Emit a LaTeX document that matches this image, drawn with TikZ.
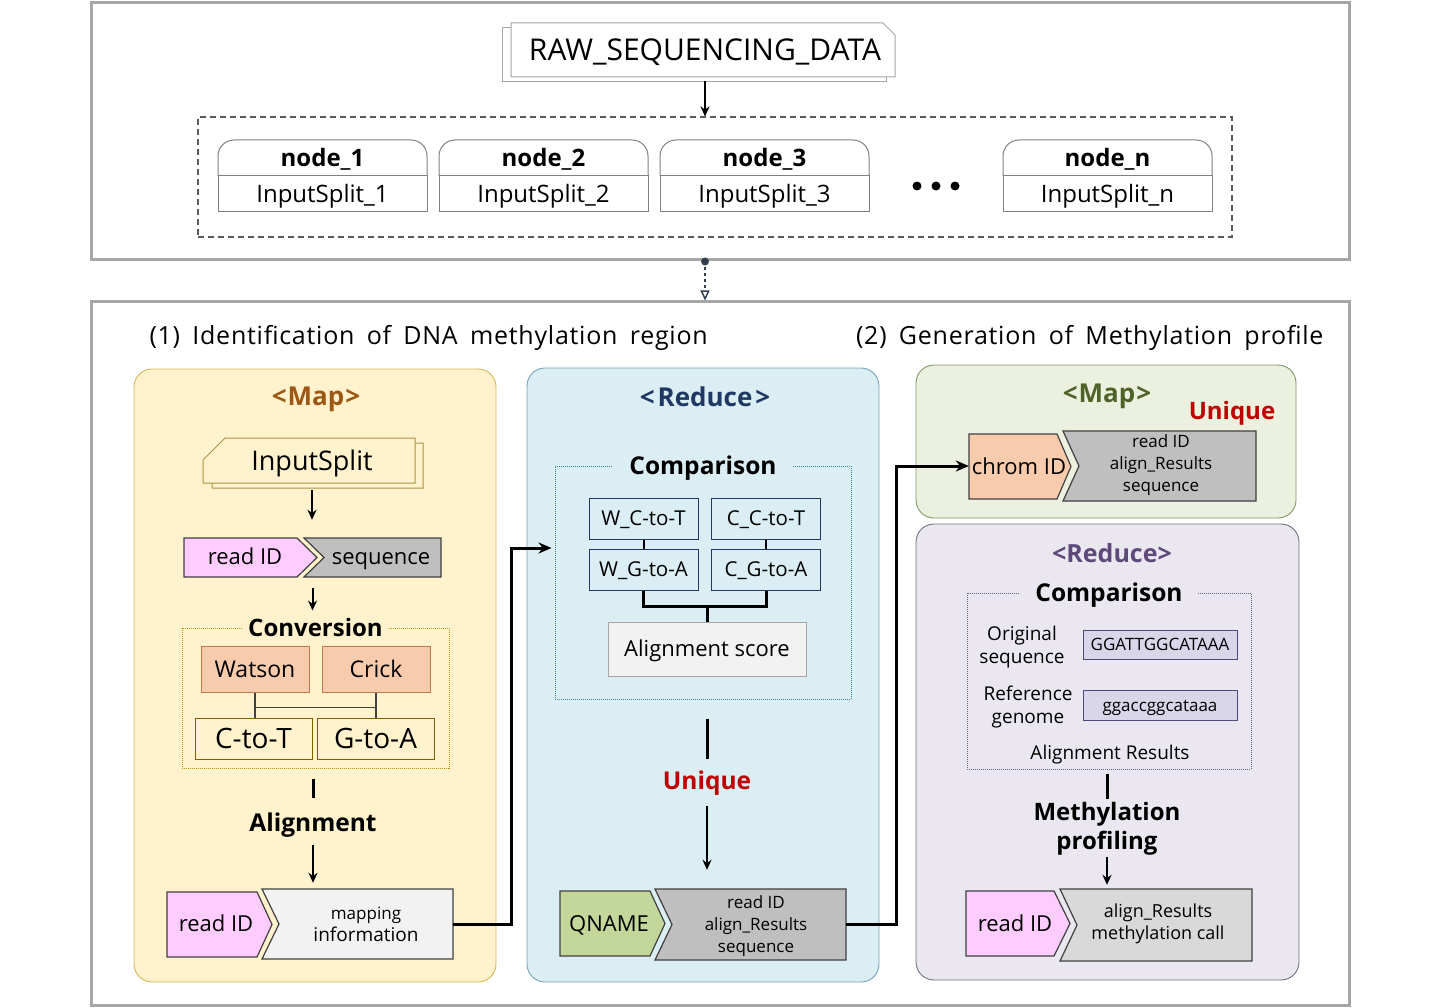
\documentclass[tikz,border=0pt]{standalone}
\usepackage{fontspec}
\setmainfont{Open Sans}
\newfontfamily\titlefamily{Open Sans}[LetterSpace=3, WordSpace=1.7]
\usepackage{xcolor}
\usepackage{tikz}
\usetikzlibrary{positioning, arrows.meta, calc}
\definecolor{framegray}{RGB}{166,166,166}
\definecolor{nodegray}{RGB}{128,128,128}
\definecolor{linknavy}{RGB}{51,63,80}
\definecolor{mapfill}{RGB}{255,242,204}
\definecolor{mapline}{RGB}{214,182,86}
\definecolor{redfill}{RGB}{218,238,243}
\definecolor{redline}{RGB}{120,160,180}
\definecolor{mapbfill}{RGB}{235,241,222}
\definecolor{mapbline}{RGB}{130,150,100}
\definecolor{redbfill}{RGB}{234,231,240}
\definecolor{redbline}{RGB}{110,110,130}
\definecolor{idpink}{RGB}{255,204,255}
\definecolor{taggray}{RGB}{191,191,191}
\definecolor{tagpale}{RGB}{242,242,242}
\definecolor{taglight}{RGB}{217,217,217}
\definecolor{qgreen}{RGB}{196,215,155}
\definecolor{peach}{RGB}{248,203,173}
\definecolor{peachline}{RGB}{197,120,80}
\definecolor{convline}{RGB}{191,144,0}
\definecolor{strandline}{RGB}{127,96,0}
\definecolor{cmpline}{RGB}{49,133,155}
\definecolor{navy}{RGB}{31,56,100}
\definecolor{mapbrown}{RGB}{156,87,20}
\definecolor{mapolive}{RGB}{79,98,40}
\definecolor{redpurple}{RGB}{95,73,122}
\definecolor{uniqred}{RGB}{192,0,0}
\definecolor{seqfill}{RGB}{217,214,234}
\definecolor{seqline}{RGB}{75,75,128}
\definecolor{cmpbline}{RGB}{100,100,130}

\tikzset{
    fs/.style 2 args={font=\fontsize{#1}{#2}\selectfont},
    bfs/.style 2 args={font=\fontsize{#1}{#2}\selectfont\bfseries},
    titlefont/.style={font=\titlefamily\fontsize{25}{30}\selectfont},
    frame/.style={draw=framegray, line width=3pt, minimum width=1258pt},
    panel/.style 2 args={fill=#1, draw=#2, line width=0.9pt, rounded corners=18pt},
    dotbox/.style={draw=#1, densely dotted, line width=1pt},
    cell/.style={draw=#1, line width=1pt},
    hold/.style={inner sep=0pt},
    tagline/.style={draw=black!75, line width=1.2pt},
    mid/.style={text height=0.96*#1pt, text depth=0.25*#1pt},
    flow/.style={line width=2pt, -{Stealth[length=10pt,width=9pt]}},
    bar/.style={line width=3pt},
    link/.style={line width=3pt, -{Stealth[length=13pt,width=11pt]}},
}

\begin{document}
\begin{tikzpicture}[x=1pt, y=-1pt]
    \useasboundingbox (0,0) rectangle (1440,1008);
    % input splitting
    \node[frame, minimum height=257pt] (topframe) at (720,131.5) {};
    \filldraw[fill=white, draw=framegray, line width=1pt] (502,28) rectangle (886,82);
    \filldraw[fill=white, draw=framegray, line width=1pt] (511,23) -- (883,23) -- (895,35) -- (895,77) -- (511,77) -- cycle;
    \node[fs={30}{36}, mid=30, minimum height=54pt] (raw) at (705,50) {RAW\_SEQUENCING\_DATA};
    \node[draw=black!65, dash pattern=on 6pt off 4pt, line width=1.2pt, minimum width=1034pt, minimum height=120pt] (cluster) at (715,177) {};
    \draw[flow, shorten <=4pt] (raw.south) -- (raw.south |- cluster.north);
    \foreach \x/\n in {218/1, 439/2, 660/3, 1003/n}{
        \draw[nodegray, line width=1pt, rounded corners=16pt] (\x,176) -- (\x,140) -- (\x+209,140) -- (\x+209,176);
        \draw[nodegray, line width=1pt] (\x,176) rectangle (\x+209,212);
        \node[bfs={24}{29}, mid=24] (head\n) at (\x+104.5,158) {node\_\n};
        \node[fs={24}{29}, mid=24] (split\n) at (\x+104.5,194) {InputSplit\_\n};
    }
    \foreach \x in {917,936,955}
        \fill (\x,186) circle (4.5);
    \node[frame, minimum height=703pt] (botframe) at (720,653.5) {};
    \fill[linknavy] (raw.south |- topframe.south) circle (4);
    \draw[linknavy, dashed, line width=1.5pt, -{Triangle[open, length=10pt, width=9pt]}] (raw.south |- topframe.south) -- (raw.south |- botframe.north);

    \node[titlefont, mid=25, anchor=west] (title1) at (146,336) {(1) Identification of DNA methylation region};
    \node[titlefont, mid=25, anchor=east] (title2) at (1327,336) {(2) Generation of Methylation profile};
    \node[panel={mapfill}{mapline}, minimum width=362pt, minimum height=613pt] (mapA) at (315,675.5) {};
    \node[panel={redfill}{redline}, minimum width=352pt, minimum height=614pt] (redA) at (703,675) {};
    \node[panel={mapbfill}{mapbline}, minimum width=380pt, minimum height=153pt] (mapB) at (1106,441.5) {};
    \node[panel={redbfill}{redbline}, minimum width=383pt, minimum height=456pt] (redB) at (1107.5,752) {};

    % (1) map
    \node[bfs={26}{31}, mid=26, text=mapbrown] (maptitleA) at (316,396) {<\kern1pt Map\kern1pt>};
    \filldraw[fill=mapfill, draw=mapline!80!black, line width=1pt] (212,465) -- (234,443) -- (423,443) -- (423,488) -- (212,488) -- cycle;
    \filldraw[fill=mapfill, draw=mapline!80!black, line width=1pt] (203,460) -- (225,438) -- (415,438) -- (415,483) -- (203,483) -- cycle;
    \node[fs={27}{32}, mid=27, hold, minimum width=220pt, minimum height=50pt] (isplit) at (312,461) {InputSplit};
    \filldraw[fill=idpink, tagline] (184,538) -- (297,538) -- (317,557.5) -- (297,577) -- (184,577) -- cycle;
    \filldraw[fill=taggray, tagline] (304,538) -- (441,538) -- (441,577) -- (304,577) -- (324,557.5) -- cycle;
    \node[hold, minimum width=257pt, minimum height=39pt] (pair1) at (312.5,557.5) {};
    \node[fs={22}{26}, mid=22] (rid1) at (245,557) {read ID};
    \node[fs={22}{26}, mid=22] (seq1) at (381,557) {sequence};
    \draw[flow, shorten <=4pt, shorten >=18pt] (isplit.south) -- (isplit.south |- pair1.north);

    \node[dotbox=convline, minimum width=267pt, minimum height=140pt] (conv) at (315.5,698) {};
    \node[bfs={24}{29}, mid=24, fill=mapfill, inner xsep=6pt, inner ysep=0pt] (convlbl) at (conv.north) {Conversion};
    \draw[flow, shorten <=11pt, shorten >=17pt] (pair1.south) -- (pair1.south |- conv.north);
    \node[cell=peachline, fill=peach, fs={23}{28}, mid=23, minimum width=108pt, minimum height=46pt] (watson) at (255,669) {Watson};
    \node[cell=peachline, fill=peach, fs={23}{28}, mid=23, minimum width=108pt, minimum height=46pt] (crick) at (376,669) {Crick};
    \node[cell=strandline, fill=mapfill, fs={28}{33}, mid=28, inner sep=1pt, minimum width=117pt, minimum height=41pt] (ctot) at (253.5,738.5) {C-to-T};
    \node[cell=strandline, fill=mapfill, fs={28}{33}, mid=28, inner sep=1pt, minimum width=117pt, minimum height=41pt] (gtoa) at (375.5,738.5) {G-to-A};
    \draw[black!75, line width=1.3pt] (watson.south) -- (watson.south |- ctot.north);
    \draw[black!75, line width=1.3pt] (crick.south) -- (crick.south |- gtoa.north);
    \draw[black!75, line width=1.3pt] ([yshift=-15pt]watson.south) -- ([yshift=-15pt]crick.south);

    \filldraw[fill=idpink, tagline] (167,892) -- (257,892) -- (272,924.5) -- (257,957) -- (167,957) -- cycle;
    \filldraw[fill=tagpale, tagline] (262,889) -- (453,889) -- (453,959) -- (262,959) -- (279,924) -- cycle;
    \node[hold, minimum width=286pt, minimum height=70pt] (pair2) at (310,924) {};
    \node[fs={22}{26}, mid=22] (rid2) at (216,924) {read ID};
    \node[fs={19}{22}, align=center] (minfo) at (366,924) {{\fontsize{17}{22}\selectfont mapping}\\information};
    \node[bfs={24.5}{29}, mid=24.5, inner sep=1pt] (alignlbl) at (313,823) {Alignment};
    \draw[bar, shorten <=10pt, shorten >=9pt] (alignlbl.north |- conv.south) -- (alignlbl.north);
    \draw[flow, shorten <=6pt, shorten >=6pt] (alignlbl.south) -- (alignlbl.south |- pair2.north);

    % (1) reduce
    \node[bfs={26}{31}, mid=26, text=navy] (redtitleA) at (705,397) {<\kern3pt Reduce\kern3pt>};
    \node[dotbox=cmpline, minimum width=296pt, minimum height=233pt] (cmpA) at (703,582.5) {};
    \node[bfs={24.5}{29}, mid=24.5, fill=redfill, inner xsep=16pt, inner ysep=0pt] (cmplblA) at (cmpA.north) {Comparison};
    \node[cell=navy, fill=redfill, fs={20.5}{24}, mid=20.5, inner sep=1pt, minimum width=109pt, minimum height=41pt] (wct) at (643.5,518.5) {W\_C-to-T};
    \node[cell=navy, fill=redfill, fs={20.5}{24}, mid=20.5, inner sep=1pt, minimum width=109pt, minimum height=41pt] (cct) at (766,518.5) {C\_C-to-T};
    \node[cell=navy, fill=redfill, fs={20.5}{24}, mid=20.5, inner sep=1pt, minimum width=109pt, minimum height=41pt] (wga) at (643.5,569.5) {W\_G-to-A};
    \node[cell=navy, fill=redfill, fs={20.5}{24}, mid=20.5, inner sep=1pt, minimum width=109pt, minimum height=41pt] (cga) at (766,569.5) {C\_G-to-A};
    \node[cell=framegray, fill=tagpale, fs={22}{26}, mid=22, minimum width=198pt, minimum height=54pt] (ascore) at (707,649) {Alignment score};
    \draw[line width=2pt] (wct) -- (wga);
    \draw[line width=2pt] (cct) -- (cga);
    \draw[bar] (wga.south) -- ++(0,16) -| (cga.south);
    \draw[bar] (ascore.north) -- ++(0,-16);

    \filldraw[fill=qgreen, tagline] (560,891) -- (650,891) -- (665,923.5) -- (650,956) -- (560,956) -- cycle;
    \filldraw[fill=taggray, tagline] (655,889) -- (846,889) -- (846,960) -- (655,960) -- (672,924.5) -- cycle;
    \node[hold, minimum width=286pt, minimum height=71pt] (pair3) at (703,924.5) {};
    \node[fs={22}{26}, mid=22] (qname) at (609,924) {QNAME};
    \node[fs={17}{22}, align=center] (qinfo) at (756,926) {read ID\\align\_Results\\sequence};
    \node[bfs={24.5}{29}, mid=24.5, text=uniqred, inner sep=1pt] (uniqA) at (707,781) {Unique};
    \draw[bar, shorten <=19pt, shorten >=6pt] (uniqA.north |- cmpA.south) -- (uniqA.north);
    \draw[flow, shorten <=9pt, shorten >=19pt] (uniqA.south) -- (uniqA.south |- pair3.north);
    \draw[link, shorten >=3pt] (pair2.east) -- ++(58,0) |- ([yshift=34.5pt]cmpA.west);

    % (2) map
    \node[bfs={26}{31}, mid=26, text=mapolive] (maptitleB) at (1107,393) {<\kern1pt Map\kern1pt>};
    \node[bfs={24}{29}, mid=24, text=uniqred] (uniqB) at (1232,411) {Unique};
    \filldraw[fill=peach, tagline] (969,434) -- (1057,434) -- (1071,466.5) -- (1057,499) -- (969,499) -- cycle;
    \filldraw[fill=taggray, tagline] (1063,431) -- (1256,431) -- (1256,501) -- (1063,501) -- (1079,466) -- cycle;
    \node[hold, minimum width=287pt, minimum height=70pt] (pair4) at (1112.5,466) {};
    \node[fs={22}{26}, mid=22] (chrom) at (1019,467) {chrom ID};
    \node[fs={17}{22}, align=center] (cinfo) at (1161,465) {read ID\\align\_Results\\sequence};
    \draw[link] (pair3.east) -- ++(50,0) |- (pair4.west);

    % (2) reduce
    \node[bfs={25}{30}, mid=25, text=redpurple] (redtitleB) at (1112,554) {<Reduce>};
    \node[dotbox=cmpbline, minimum width=284pt, minimum height=176pt] (cmpB) at (1109,681) {};
    \node[bfs={24.5}{29}, mid=24.5, fill=redbfill, inner xsep=15pt, inner ysep=0pt] (cmplblB) at (cmpB.north) {Comparison};
    \node[fs={19}{23}, align=center] (origlbl) at (1022,647) {Original\\sequence};
    \node[cell=seqline, fill=seqfill, fs={17}{20}, mid=17, minimum width=154pt, minimum height=29pt] (origseq) at (1160,644.5) {GGATTGGCATAAA};
    \node[fs={19}{23}, align=center] (reflbl) at (1028,707) {Reference\\genome};
    \node[cell=seqline, fill=seqfill, fs={17}{20}, mid=17, minimum width=154pt, minimum height=30pt] (refseq) at (1160,705) {ggaccggcataaa};
    \node[fs={19}{23}, mid=19] (alres) at (1110,753) {Alignment Results};
    \filldraw[fill=idpink, tagline] (966,891) -- (1054,891) -- (1070,923.5) -- (1054,956) -- (966,956) -- cycle;
    \filldraw[fill=taglight, tagline] (1060,889) -- (1252,889) -- (1252,961) -- (1060,961) -- (1077,925) -- cycle;
    \node[hold, minimum width=286pt, minimum height=72pt] (pair5) at (1109,925) {};
    \node[fs={22}{26}, mid=22] (rid5) at (1015,924) {read ID};
    \node[fs={18}{22}, align=center] (rinfo) at (1158,924) {align\_Results\\methylation call};
    \node[bfs={24}{29}, align=center, inner sep=1pt] (profil) at (1107,829) {Methylation\\profiling};
    \draw[bar, shorten <=4pt, shorten >=2pt] (profil.north |- cmpB.south) -- (profil.north);
    \draw[flow, shorten >=4pt] (profil.south) -- (profil.south |- pair5.north);
\end{tikzpicture}
\end{document}
